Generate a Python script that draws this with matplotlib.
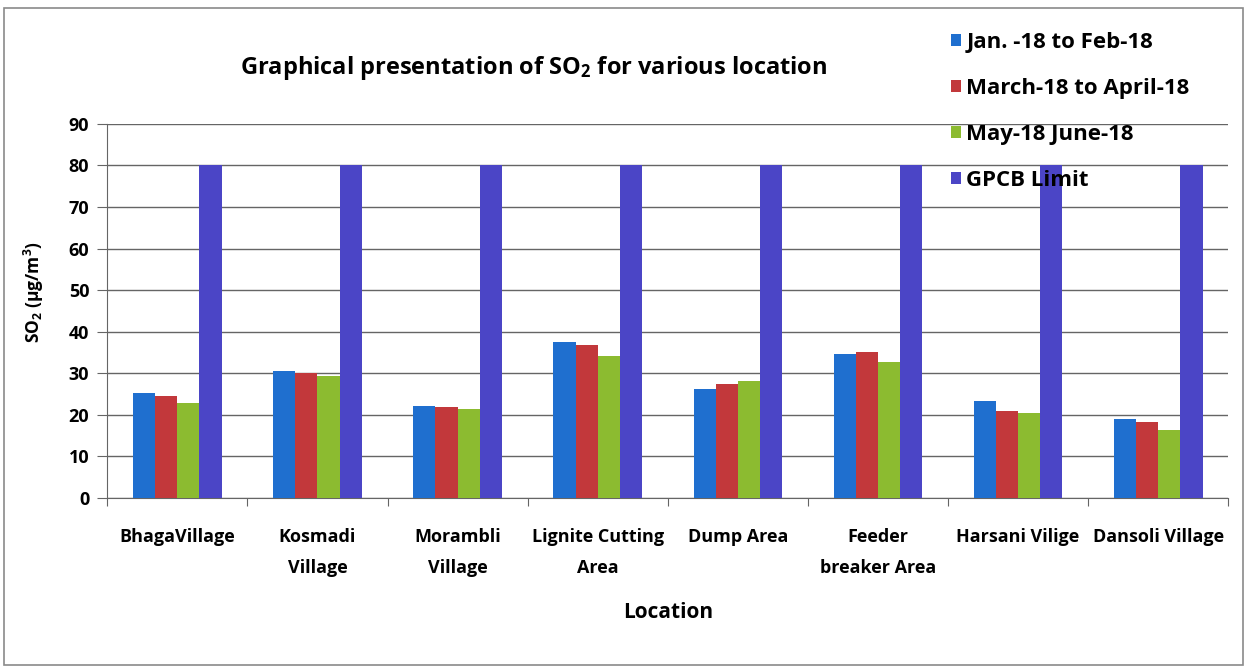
import matplotlib
matplotlib.use("Agg")
import matplotlib.pyplot as plt
import numpy as np
from matplotlib.patches import Rectangle

# Data
locations = ["BhagaVillage", "Kosmadi\nVillage", "Morambli\nVillage", "Lignite Cutting\nArea",
             "Dump Area", "Feeder\nbreaker Area", "Harsani Vilige", "Dansoli Village"]
series_names = ["Jan. -18 to Feb-18", "March-18 to April-18", "May-18 June-18", "GPCB Limit"]
jan_feb = [25.2, 30.5, 22.1, 37.5, 26.1, 34.5, 23.4, 19.0]
mar_apr = [24.5, 30.0, 21.9, 36.7, 27.3, 35.0, 20.9, 18.2]
may_jun = [22.9, 29.3, 21.3, 34.1, 28.2, 32.6, 20.4, 16.4]
gpcb_limit = [80, 80, 80, 80, 80, 80, 80, 80]
colors = ["#1f6fcf", "#c2383b", "#8cbb30", "#4b45c6"]

plt.rcParams['font.family'] = ['Open Sans', 'DejaVu Sans']
plt.rcParams['font.weight'] = 'bold'
plt.rcParams['mathtext.fontset'] = 'custom'
plt.rcParams['mathtext.rm'] = 'Open Sans:bold'
plt.rcParams['mathtext.it'] = 'Open Sans:bold'
plt.rcParams['mathtext.bf'] = 'Open Sans:bold'

fig = plt.figure(figsize=(12.47, 6.70), dpi=100)
ax = fig.add_axes([0.086, 0.257, 0.899, 0.558])

x = np.arange(len(locations))
w = 0.158
all_series = [jan_feb, mar_apr, may_jun, gpcb_limit]
for i, (vals, name, c) in enumerate(zip(all_series, series_names, colors)):
    ax.bar(x + (i - 1.5) * w, vals, width=w, color=c, label=name, zorder=3)

ax.set_ylim(0, 90)
ax.set_xlim(-0.5, len(locations) - 0.5)
ax.set_yticks(range(0, 91, 10))
ax.yaxis.grid(True, color="#656565", linewidth=1.0, zorder=0)
ax.tick_params(axis='y', labelsize=13, length=7, color="#656565", pad=6)

# category boundary ticks, labels in between
ax.set_xticks(np.arange(-0.5, len(locations), 1.0))
ax.set_xticklabels([])
ax.set_xticks(x, minor=True)
ax.set_xticklabels(locations, minor=True, fontsize=13, linespacing=1.9)
ax.tick_params(axis='x', which='major', length=6, color="#656565")
ax.tick_params(axis='x', which='minor', length=0, pad=22)

for s in ["top", "right"]:
    ax.spines[s].set_visible(False)
ax.spines["left"].set_color("#656565")
ax.spines["bottom"].set_color("#656565")

ax.set_ylabel("SO$_2$ (µg/m$^3$)", fontsize=12.5, fontweight='bold')
ax.yaxis.set_label_coords(-0.055, 0.55)
ax.set_xlabel("Location", fontsize=15, fontweight='bold', labelpad=18)

fig.text(0.428, 0.898, "Graphical presentation of SO$_2$ for various location",
         ha='center', va='center', fontsize=17, fontweight='bold')

fig.legend(loc='upper left', bbox_to_anchor=(0.763, 0.952), frameon=False,
           fontsize=16, handlelength=0.42, handleheight=0.42, handletextpad=0.25,
           labelspacing=1.12, borderaxespad=0, borderpad=0)

fig.patches.append(Rectangle((0.003, 0.008), 0.994, 0.98, transform=fig.transFigure,
                             fill=False, edgecolor="#8a8a8a", linewidth=1.2))

fig.savefig("out.png", dpi=100)
